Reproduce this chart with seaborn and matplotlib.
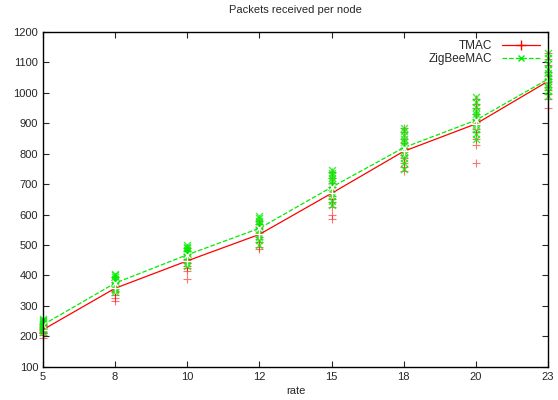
import pandas as pd
import seaborn as sns
import matplotlib.pyplot as plt
from matplotlib.lines import Line2D


# -------------------------------------------------
# DATA
# -------------------------------------------------
rates = ["5", "8", "10", "12", "15", "18", "20", "23"]

tmac_mean = [222, 358, 448, 535, 670, 808, 898, 1038]
zigbee_mean = [238, 375, 468, 555, 690, 820, 910, 1045]

# packets received by each node, one list per rate
tmac_nodes = [
    [195, 205, 210, 212, 215, 218, 220, 224, 228, 232, 236, 240],
    [315, 325, 335, 345, 350, 355, 360, 365, 370, 378, 385, 395],
    [390, 415, 425, 432, 440, 445, 450, 455, 462, 470, 480, 490],
    [488, 495, 510, 520, 528, 535, 540, 545, 552, 560, 570, 580],
    [585, 600, 625, 640, 650, 660, 670, 680, 690, 705, 720, 740],
    [742, 755, 770, 785, 795, 805, 812, 820, 835, 850, 870, 885],
    [770, 830, 850, 870, 880, 895, 905, 915, 930, 950, 965, 980],
    [950, 980, 995, 1010, 1020, 1035, 1045, 1055, 1070, 1090, 1110, 1130],
]

zigbee_nodes = [
    [215, 220, 225, 230, 233, 236, 240, 243, 246, 250, 253, 256],
    [345, 352, 360, 365, 370, 375, 380, 385, 390, 395, 400, 405],
    [430, 440, 450, 458, 465, 470, 475, 480, 485, 490, 495, 500],
    [500, 515, 525, 535, 545, 552, 560, 565, 572, 580, 588, 595],
    [630, 645, 660, 672, 682, 690, 700, 710, 720, 730, 738, 745],
    [750, 770, 785, 800, 810, 820, 830, 840, 850, 862, 875, 885],
    [850, 865, 880, 893, 905, 912, 920, 930, 942, 955, 970, 985],
    [990, 1005, 1020, 1030, 1040, 1048, 1055, 1065, 1080, 1095, 1115, 1130],
]

RED = "#ff0000"
GREEN = "#00ee00"


def long_form(nodes):
    rows = []
    for r, vals in zip(rates, nodes):
        for v in vals:
            rows.append({"rate": r, "packets": v})
    return pd.DataFrame(rows)


tmac_df = long_form(tmac_nodes)
zig_df = long_form(zigbee_nodes)
mean_tmac = pd.DataFrame({"rate": rates, "packets": tmac_mean})
mean_zig = pd.DataFrame({"rate": rates, "packets": zigbee_mean})

# -------------------------------------------------
# PLOT
# -------------------------------------------------
sns.set_style("ticks")
plt.rcParams["font.family"] = ["Liberation Sans", "DejaVu Sans"]

fig, ax = plt.subplots(figsize=(5.58, 4.0), dpi=100)
fig.subplots_adjust(left=0.077, right=0.982, bottom=0.083, top=0.92)

sns.scatterplot(data=tmac_df, x="rate", y="packets", marker="+", color=RED,
                s=40, linewidth=0.8, alpha=0.55, ax=ax, clip_on=False)
sns.scatterplot(data=zig_df, x="rate", y="packets", marker="x", color=GREEN,
                s=25, linewidth=1.0, alpha=0.75, ax=ax, clip_on=False)

sns.lineplot(data=mean_tmac, x="rate", y="packets", color=RED, lw=0.9,
             marker="+", markersize=7, markeredgewidth=1.0, ax=ax,
             sort=False, legend=False)
sns.lineplot(data=mean_zig, x="rate", y="packets", color=GREEN, lw=0.9,
             linestyle="--", marker="x", markersize=5, markeredgewidth=1.0,
             ax=ax, sort=False, legend=False)

ax.set_xlim(0, len(rates) - 1)
ax.set_ylim(100, 1200)
ax.set_yticks(range(100, 1201, 100))
ax.set_title("Packets received per node", fontsize=8, pad=14)
ax.set_xlabel("rate", fontsize=8, labelpad=3)
ax.set_ylabel("")
ax.tick_params(direction="in", top=True, right=True, labelsize=8,
               length=4, width=0.8)
for sp in ax.spines.values():
    sp.set_linewidth(1.0)
    sp.set_color("black")

handles = [
    Line2D([], [], color=RED, lw=0.9, marker="+", markersize=7,
           markeredgewidth=1.0),
    Line2D([], [], color=GREEN, lw=0.9, linestyle="--", marker="x",
           markersize=5, markeredgewidth=1.0),
]
ax.legend(handles, ["TMAC", "ZigBeeMAC"], loc="upper right", frameon=False,
          markerfirst=False, fontsize=8.5, handlelength=3.2,
          borderaxespad=0.3, labelspacing=0.1)

plt.savefig("out.png", dpi=100)
